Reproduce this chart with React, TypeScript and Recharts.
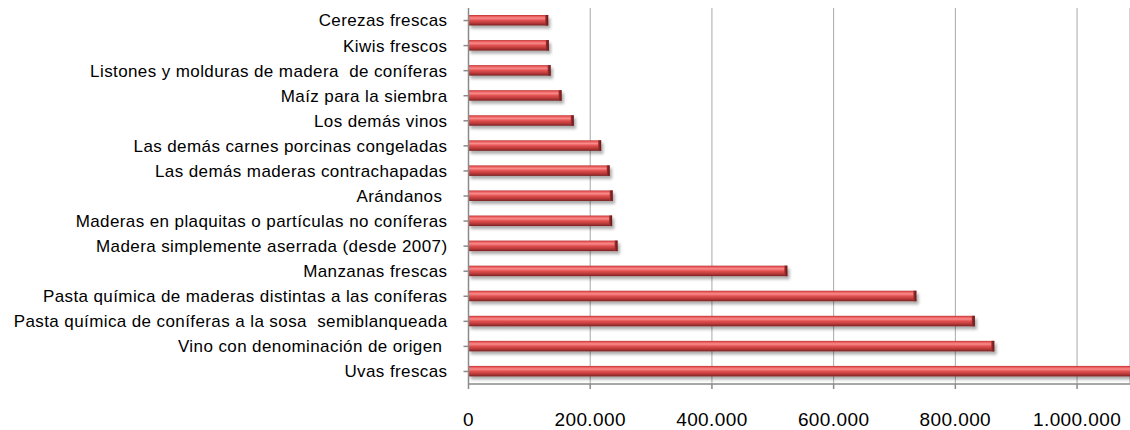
import React from "react";
import { BarChart, Bar, XAxis, YAxis, CartesianGrid } from "recharts";

const categories = [
  "Cerezas frescas",
  "Kiwis frescos",
  "Listones y molduras de madera  de coníferas",
  "Maíz para la siembra",
  "Los demás vinos",
  "Las demás carnes porcinas congeladas",
  "Las demás maderas contrachapadas",
  "Arándanos ",
  "Maderas en plaquitas o partículas no coníferas",
  "Madera simplemente aserrada (desde 2007)",
  "Manzanas frescas",
  "Pasta química de maderas distintas a las coníferas",
  "Pasta química de coníferas a la sosa  semiblanqueada",
  "Vino con denominación de origen ",
  "Uvas frescas",
];

const values = [
  131000, 132000, 135000, 153000, 173000, 218000, 232000, 237000, 236000,
  245000, 524000, 736000, 832000, 864000, 1100000,
];

const xTicks = [0, 200000, 400000, 600000, 800000, 1000000];

const data = categories.map((name, i) => ({ name, value: values[i] }));

const fmt = (v: number) => v.toLocaleString("de-DE");

const FONT = "'Liberation Sans', Arial, sans-serif";

function CategoryTick(props: any) {
  const { x, y, payload } = props;
  return (
    <text
      x={x}
      y={y}
      dy="0.35em"
      textAnchor="end"
      fontFamily={FONT}
      fontSize={17}
      letterSpacing={0.4}
      fill="#000"
      style={{ whiteSpace: "pre" }}
    >
      {payload.value}
    </text>
  );
}

function ValueTick(props: any) {
  const { x, y, payload } = props;
  return (
    <text
      x={x}
      y={y}
      dy="0.71em"
      textAnchor="middle"
      fontFamily={FONT}
      fontSize={19}
      letterSpacing={0.4}
      fill="#000"
    >
      {fmt(payload.value)}
    </text>
  );
}

function GlossyBar(props: any) {
  const { x, y, width, height } = props;
  if (!width || width <= 0) return null;
  const cap = Math.min(3, width);
  return (
    <g filter="url(#barShadow)">
      <rect x={x} y={y} width={width} height={height} fill="url(#barFill)" />
      <rect
        x={x + width - cap}
        y={y}
        width={cap}
        height={height}
        fill="url(#capFill)"
      />
    </g>
  );
}

export default function App() {
  return (
    <div style={{ width: 1130, height: 430, overflow: "hidden" }}>
      <style>{`body { margin: 0; overflow: hidden; }`}</style>
      <BarChart
        width={1130}
        height={430}
        data={data}
        layout="vertical"
        margin={{ top: 8, right: 0, bottom: 0, left: 0 }}
        barCategoryGap={0}
      >
        <defs>
          <linearGradient id="barFill" x1="0" y1="0" x2="0" y2="1">
            <stop offset="0%" stopColor="#b83232" />
            <stop offset="12%" stopColor="#ea5858" />
            <stop offset="30%" stopColor="#f88c8c" />
            <stop offset="50%" stopColor="#e45252" />
            <stop offset="78%" stopColor="#b83838" />
            <stop offset="100%" stopColor="#772222" />
          </linearGradient>
          <linearGradient id="capFill" x1="0" y1="0" x2="1" y2="0">
            <stop offset="0%" stopColor="#a53030" />
            <stop offset="100%" stopColor="#5e1a1a" />
          </linearGradient>
          <filter id="barShadow" x="-5%" y="-50%" width="110%" height="220%">
            <feDropShadow dx="2" dy="3" stdDeviation="1.5" floodColor="#000" floodOpacity="0.32" />
          </filter>
        </defs>
        <CartesianGrid horizontal={false} stroke="#a8a8a8" strokeWidth={1} />
        <XAxis
          type="number"
          domain={[0, 1087000]}
          ticks={xTicks}
          allowDataOverflow
          height={46}
          tickSize={5}
          tickMargin={24}
          stroke="#8a8a8a"
          strokeWidth={1.5}
          tick={<ValueTick />}
        />
        <YAxis
          type="category"
          dataKey="name"
          width={468.5}
          tickSize={5}
          tickMargin={16}
          interval={0}
          stroke="#8a8a8a"
          strokeWidth={1.5}
          tick={<CategoryTick />}
        />
        <Bar
          dataKey="value"
          barSize={10.5}
          shape={<GlossyBar />}
          isAnimationActive={false}
        />
      </BarChart>
    </div>
  );
}
